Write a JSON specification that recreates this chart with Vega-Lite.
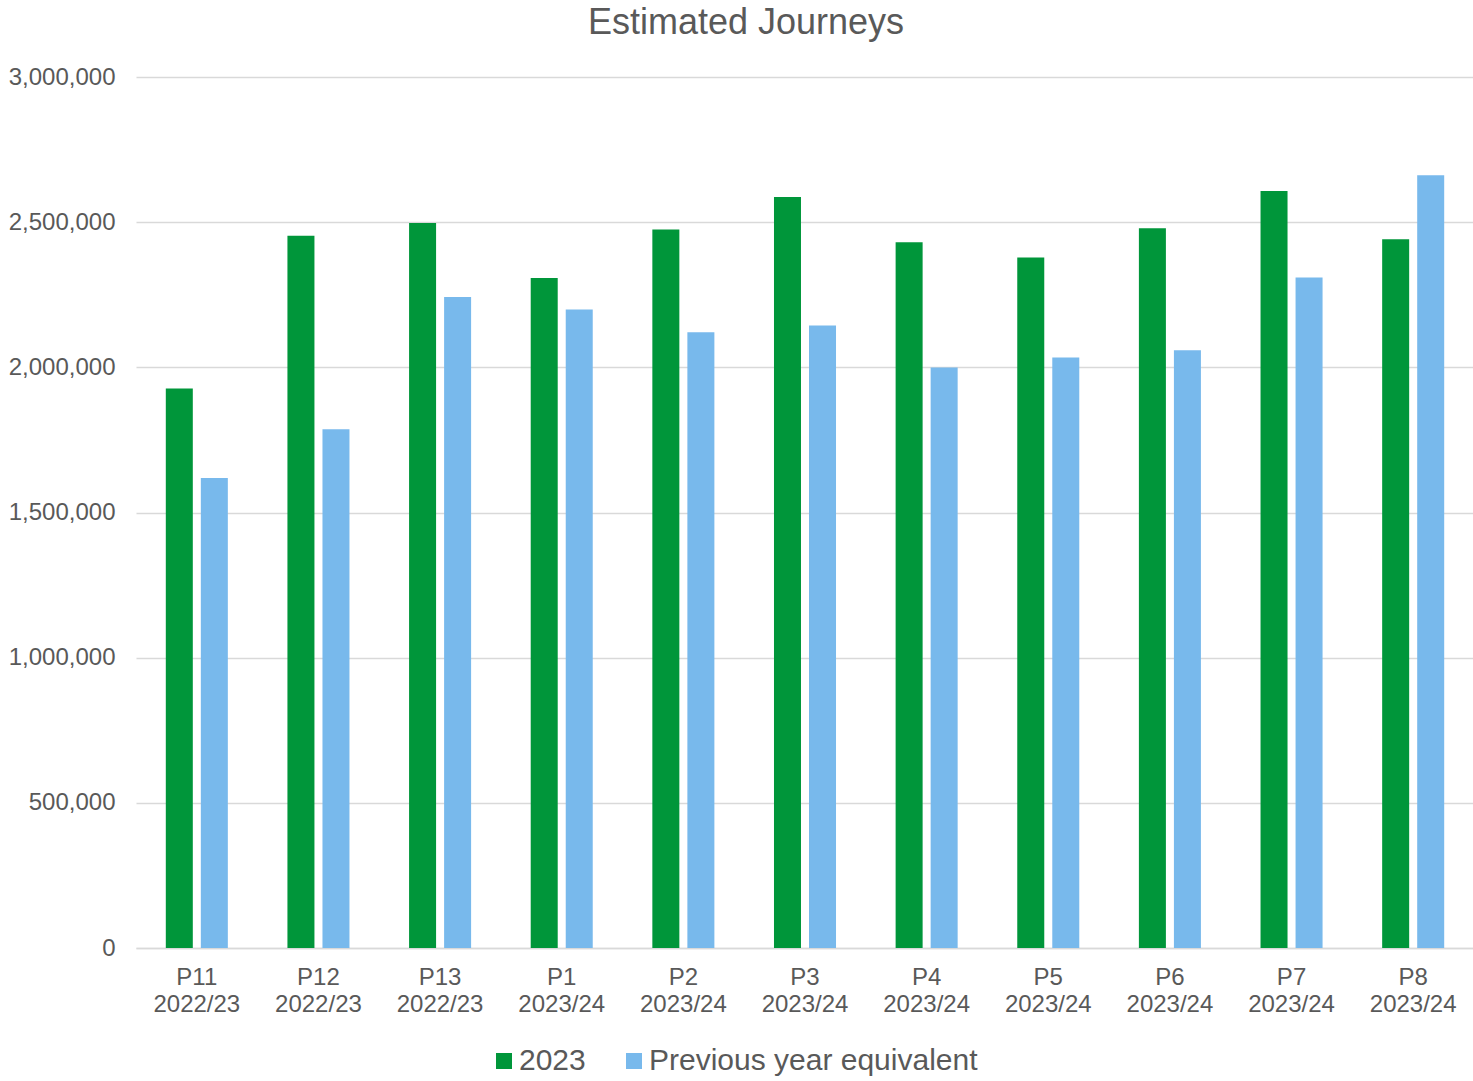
{
  "$schema": "https://vega.github.io/schema/vega-lite/v6.json",
  "width": 1338,
  "height": 871,
  "autosize": {"type": "none"},
  "padding": {"left": 136, "top": 77, "right": 0, "bottom": 133},
  "background": "white",
  "config": {
    "font": "Liberation Sans",
    "view": {"stroke": null}
  },
  "title": {
    "text": "Estimated Journeys",
    "anchor": "middle",
    "dx": -59,
    "offset": 23,
    "fontSize": 36,
    "fontWeight": "normal",
    "color": "#595959"
  },
  "data": {
    "values": [
      {"period": "P11 2022/23", "series": "2023", "journeys": 1927000},
      {"period": "P11 2022/23", "series": "Previous year equivalent", "journeys": 1619000},
      {"period": "P12 2022/23", "series": "2023", "journeys": 2453000},
      {"period": "P12 2022/23", "series": "Previous year equivalent", "journeys": 1787000},
      {"period": "P13 2022/23", "series": "2023", "journeys": 2497000},
      {"period": "P13 2022/23", "series": "Previous year equivalent", "journeys": 2242000},
      {"period": "P1 2023/24", "series": "2023", "journeys": 2308000},
      {"period": "P1 2023/24", "series": "Previous year equivalent", "journeys": 2199000},
      {"period": "P2 2023/24", "series": "2023", "journeys": 2475000},
      {"period": "P2 2023/24", "series": "Previous year equivalent", "journeys": 2121000},
      {"period": "P3 2023/24", "series": "2023", "journeys": 2587000},
      {"period": "P3 2023/24", "series": "Previous year equivalent", "journeys": 2144000},
      {"period": "P4 2023/24", "series": "2023", "journeys": 2431000},
      {"period": "P4 2023/24", "series": "Previous year equivalent", "journeys": 1999000},
      {"period": "P5 2023/24", "series": "2023", "journeys": 2378000},
      {"period": "P5 2023/24", "series": "Previous year equivalent", "journeys": 2034000},
      {"period": "P6 2023/24", "series": "2023", "journeys": 2479000},
      {"period": "P6 2023/24", "series": "Previous year equivalent", "journeys": 2059000},
      {"period": "P7 2023/24", "series": "2023", "journeys": 2607000},
      {"period": "P7 2023/24", "series": "Previous year equivalent", "journeys": 2309000},
      {"period": "P8 2023/24", "series": "2023", "journeys": 2441000},
      {"period": "P8 2023/24", "series": "Previous year equivalent", "journeys": 2662000}
    ]
  },
  "mark": {"type": "bar"},
  "encoding": {
    "x": {
      "field": "period",
      "type": "nominal",
      "sort": null,
      "scale": {"paddingInner": 0.49, "paddingOuter": 0.245},
      "axis": {
        "title": null,
        "labelExpr": "split(datum.value, ' ')",
        "labelAngle": 0,
        "labelFontSize": 24,
        "labelColor": "#595959",
        "labelLineHeight": 27,
        "labelPadding": 17,
        "ticks": false,
        "tickSize": 0,
        "domain": true,
        "domainColor": "#d9d9d9",
        "domainWidth": 1.5,
        "grid": false
      }
    },
    "xOffset": {
      "field": "series",
      "scale": {"paddingInner": 0.229, "paddingOuter": 0}
    },
    "y": {
      "field": "journeys",
      "type": "quantitative",
      "scale": {"domain": [0, 3000000], "nice": false},
      "axis": {
        "title": null,
        "values": [0, 500000, 1000000, 1500000, 2000000, 2500000, 3000000],
        "format": ",d",
        "labelFontSize": 24,
        "labelColor": "#595959",
        "labelPadding": 21,
        "ticks": false,
        "tickSize": 0,
        "domain": false,
        "grid": true,
        "gridColor": "#d9d9d9",
        "gridWidth": 1.5
      }
    },
    "color": {
      "field": "series",
      "type": "nominal",
      "scale": {
        "domain": ["2023", "Previous year equivalent"],
        "range": ["#00963A", "#78B9EC"]
      },
      "legend": {
        "title": null,
        "orient": "none",
        "legendX": 353,
        "legendY": 969,
        "direction": "horizontal",
        "symbolType": "square",
        "symbolSize": 256,
        "symbolStrokeWidth": 0,
        "labelFontSize": 30,
        "labelColor": "#595959",
        "labelOffset": 0,
        "labelLimit": 500,
        "columnPadding": 33
      }
    }
  }
}
